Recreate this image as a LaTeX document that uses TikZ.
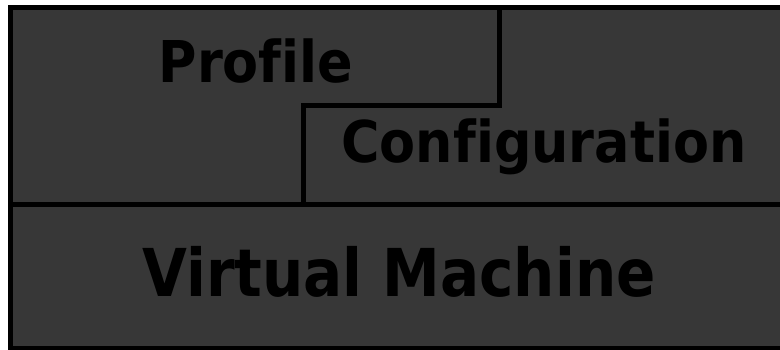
\documentclass[tikz,border=0pt]{standalone}
\usepackage{fontspec}
\newfontfamily\labelfont{DejaVu Sans}[BoldFont={DejaVu Sans Bold}, Ligatures=CommonOff]
\definecolor{panelgray}{RGB}{55,55,55}
\tikzset{
  frame/.style={draw=black, line width=5pt},
  lbl/.style={font=\labelfont\bfseries\fontsize{57.6}{58}\selectfont, text=black,
              inner sep=0pt, anchor=base, xscale=0.91, transform shape},
  biglbl/.style={lbl, font=\labelfont\bfseries\fontsize{66}{66}\selectfont, xscale=0.965}
}
\begin{document}
\begin{tikzpicture}[x=1pt, y=-1pt]
  \useasboundingbox (0,0) rectangle (780,349);
  \begin{scope}
    \clip (0,0) rectangle (780,349);
    % outer panel
    \fill[panelgray] (10.5,7.5) rectangle (782.5,348.5);
    \draw[frame] (10.5,7.5) rectangle (782.5,348.5);
    % layer boundary between the upper layers and the virtual machine
    \draw[frame] (10.5,204) -- (782.5,204);
    % stepped boundary between profile and configuration
    \draw[frame, line join=miter] (499,7.5) -- (499,105) -- (303,105) -- (303,204);
  \end{scope}
  \node[lbl] (profile) at (256,82) {Profile};
  \node[lbl] (config) at (544,162) {Configuration};
  \node[biglbl] (vm) at (399,296) {Virtual Machine};
\end{tikzpicture}
\end{document}
